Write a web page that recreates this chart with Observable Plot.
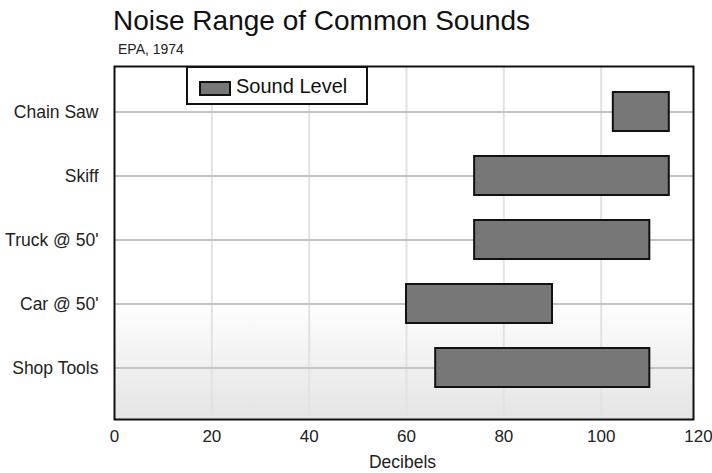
<!DOCTYPE html>
<html>
<head>
<meta charset="utf-8">
<script src="https://cdn.jsdelivr.net/npm/d3@7"></script>
<script src="https://cdn.jsdelivr.net/npm/@observablehq/plot@0.6"></script>
<style>
  html, body { margin: 0; padding: 0; background: #fff; }
  body { font-family: "Liberation Sans", Arial, Helvetica, sans-serif; color: #111; }
  #wrap { position: relative; width: 712px; height: 473px; overflow: hidden; }
  #header { position: relative; height: 60px; }
  #title { position: absolute; left: 113px; top: 7px; font-size: 28px; line-height: 1; white-space: nowrap; color: #111; }
  #subtitle { position: absolute; left: 118px; top: 42px; font-size: 14px; line-height: 1; white-space: nowrap; color: #222; }
  #legend { position: absolute; left: 186px; top: 66px; width: 178px; height: 35px; border: 2px solid #111; background: #fff; box-sizing: content-box; }
  #legend .sw { position: absolute; left: 11px; top: 13px; width: 28px; height: 11px; background: #777; border: 2px solid #111; }
  #legend .tx { position: absolute; left: 48px; top: 8px; font-size: 20px; line-height: 1; white-space: nowrap; color: #111; }
  #chart svg { display: block; }
</style>
</head>
<body>
<div id="wrap">
  <div id="header">
    <div id="title">Noise Range of Common Sounds</div>
    <div id="subtitle">EPA, 1974</div>
  </div>
  <div id="chart"></div>
  <div id="legend"><div class="sw"></div><div class="tx">Sound Level</div></div>
</div>
<script>
const categories = ["Chain Saw", "Skiff", "Truck @ 50'", "Car @ 50'", "Shop Tools"];
const lows = [102.5, 74, 74, 60, 66];
const highs = [114, 114, 110, 90, 110];
const xTicks = [0, 20, 40, 60, 80, 100, 120];
const gridTicks = [20, 40, 60, 80, 100];
const seriesName = "Sound Level";

const data = categories.map((c, i) => ({name: c, lo: lows[i], hi: highs[i], series: seriesName}));

const plot = Plot.plot({
  width: 712,
  height: 413,
  marginTop: 6,
  marginBottom: 54,
  marginLeft: 114,
  marginRight: 14,
  style: {fontFamily: "Liberation Sans, Arial, Helvetica, sans-serif", color: "#222", background: "transparent", overflow: "visible"},
  x: {domain: [0, 120], ticks: xTicks},
  y: {domain: categories, paddingInner: 0.39, paddingOuter: 0.43, align: 0.45},
  marks: [
    Plot.frame({fill: "url(#bgGrad)", insetRight: 5}),
    Plot.ruleX(gridTicks, {x: d => d, stroke: "#e2e2e2", strokeWidth: 2}),
    Plot.ruleY(categories, {y: d => d, stroke: "#c4c4c4", strokeWidth: 2, insetRight: 5}),
    Plot.barX(data, {x1: "lo", x2: "hi", y: "name", fill: "#777777", stroke: "#111", strokeWidth: 2}),
    Plot.frame({stroke: "#111", strokeWidth: 2, insetRight: 5}),
    Plot.axisY({tickSize: 0, tickPadding: 16, fontSize: 17.5, label: null}),
    Plot.axisX({ticks: xTicks, tickSize: 0, tickPadding: 10, fontSize: 17, label: null}),
    Plot.text([seriesName], {text: () => "Decibels", frameAnchor: "bottom", dy: 48, dx: -4, fontSize: 17.5, fill: "#222", insetRight: 5})
  ]
});

const defs = d3.select(plot).insert("defs", ":first-child");
const g = defs.append("linearGradient").attr("id", "bgGrad").attr("x1", 0).attr("y1", 0).attr("x2", 0).attr("y2", 1);
g.append("stop").attr("offset", 0).attr("stop-color", "#ffffff");
g.append("stop").attr("offset", 0.66).attr("stop-color", "#ffffff");
g.append("stop").attr("offset", 1).attr("stop-color", "#e4e4e4");

document.getElementById("chart").appendChild(plot);
</script>
</body>
</html>
